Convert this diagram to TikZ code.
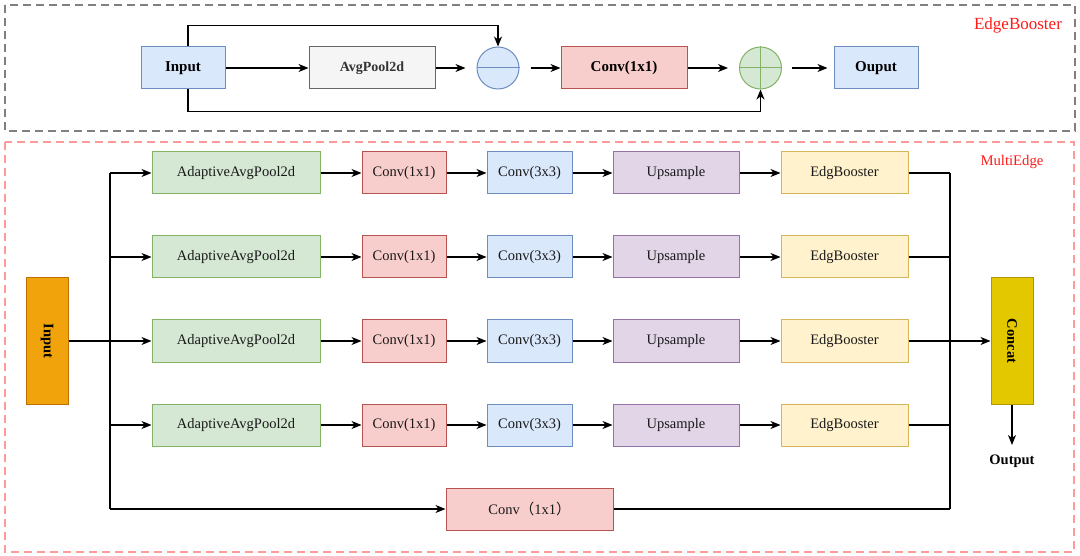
\documentclass[tikz,border=0pt]{standalone}
\usepackage{fontspec}
\setmainfont{Liberation Serif}
\newfontfamily\cjk{Noto Sans CJK SC}
\usetikzlibrary{arrows.meta}
\definecolor{blueF}{HTML}{DAE8FC}\definecolor{blueD}{HTML}{6C8EBF}
\definecolor{grayF}{HTML}{F5F5F5}\definecolor{grayD}{HTML}{666666}\definecolor{grayT}{HTML}{333333}
\definecolor{redF}{HTML}{F8CECC}\definecolor{redD}{HTML}{B85450}
\definecolor{greenF}{HTML}{D5E8D4}\definecolor{greenD}{HTML}{82B366}
\definecolor{purpF}{HTML}{E1D5E7}\definecolor{purpD}{HTML}{9673A6}
\definecolor{yelF}{HTML}{FFF2CC}\definecolor{yelD}{HTML}{D6B656}
\definecolor{orF}{HTML}{F0A30A}\definecolor{orD}{HTML}{BD7000}
\definecolor{conF}{HTML}{E3C800}\definecolor{conD}{HTML}{B09500}
\definecolor{frameGray}{HTML}{808080}\definecolor{framePink}{HTML}{FF9A9A}
\definecolor{labRed}{HTML}{FF1A1A}
\begin{document}
\begin{tikzpicture}[x=1pt,y=-1pt,
  box/.style={draw, rectangle, line width=1pt, inner sep=0pt, minimum height=42pt},
  arr/.style={-{Stealth[length=10pt,width=8pt,inset=3pt]}, line width=1.2pt, black},
  ln/.style={line width=1.2pt, black},
  fb/.style={font=\fontsize{15}{18}\selectfont\bfseries},
  fr/.style={font=\fontsize{14.5}{17}\selectfont, text=black!90},
  bluebox/.style={box, fill=blueF, draw=blueD},
  graybox/.style={box, fill=grayF, draw=grayD, text=grayT},
  redbox/.style={box, fill=redF, draw=redD},
  greenbox/.style={box, fill=greenF, draw=greenD},
  purpbox/.style={box, fill=purpF, draw=purpD},
  yelbox/.style={box, fill=yelF, draw=yelD},
  opcirc/.style={circle, line width=1pt, inner sep=0pt, minimum size=42pt},
  frame/.style={line width=1.5pt, dash pattern=on 8pt off 5pt},
  framelabel/.style={text=labRed, inner sep=0pt}
]
\useasboundingbox (0,0) rectangle (1080,556);
\fill[white] (0,0) rectangle (1080,556);

% ---------- EdgeBooster ----------
\draw[frame, frameGray] (5,5) rectangle (1075,131);
\node[framelabel, font=\fontsize{17}{20}\selectfont] (ebl) at (1018,25) {EdgeBooster};

\node[bluebox, fb, minimum width=84pt] (tin) at (183,68) {Input};
\node[graybox, font=\fontsize{14}{17}\selectfont\bfseries, minimum width=126pt] (tavg) at (372,68) {AvgPool2d};
\node[opcirc, draw=blueD, fill=blueF] (minus) at (498,68) {};
\draw[blueD, line width=1pt] (minus.west) -- (minus.east);
\node[redbox, fb, minimum width=126pt] (tconv) at (624,68) {Conv(1x1)};
\node[opcirc, draw=greenD, fill=greenF] (plus) at (760.5,68) {};
\draw[greenD, line width=1pt] (plus.west) -- (plus.east);
\draw[greenD, line width=1pt] (plus.north) -- (plus.south);
\node[bluebox, fb, minimum width=84pt] (tout) at (876,68) {Ouput};

\draw[arr] (tin.east) -- (tavg.west);
\draw[arr] (tavg.east) -- ([xshift=-11pt]minus.west);
\draw[arr] ([xshift=11pt]minus.east) -- (tconv.west);
\draw[arr] (tconv.east) -- ([xshift=-11pt]plus.west);
\draw[arr] ([xshift=10pt]plus.east) -- ([xshift=-6pt]tout.west);
\draw[arr] ([xshift=5pt]tin.north) -- ++(0,-21) -| (minus.north);
\draw[arr] ([xshift=5pt]tin.south) -- ++(0,22) -| (plus.south);

% ---------- MultiEdge ----------
\draw[frame, framePink] (5,142) rectangle (1074,552);
\node[framelabel, font=\fontsize{14.7}{17}\selectfont] (mel) at (1012,162) {MultiEdge};

\node[box, fill=orF, draw=orD, font=\fontsize{14.5}{17}\selectfont\bfseries, minimum width=127pt, rotate=-90] (min) at (47,341) {Input};
\node[box, fill=conF, draw=conD, font=\fontsize{14.5}{17}\selectfont\bfseries, minimum width=127pt, rotate=-90] (conc) at (1012,341) {Concat};

\foreach \i/\y in {1/173,2/257,3/341,4/425}{
  \node[greenbox, fr, minimum width=168pt] (pool\i) at (236,\y) {AdaptiveAvgPool2d};
  \node[redbox, fr, minimum width=84pt] (ca\i) at (404,\y) {Conv(1x1)};
  \node[bluebox, fr, minimum width=85pt] (cb\i) at (529.5,\y) {Conv(3x3)};
  \node[purpbox, fr, minimum width=126pt] (up\i) at (676,\y) {Upsample};
  \node[yelbox, fr, minimum width=127pt] (eb\i) at (844.5,\y) {EdgBooster};
  \draw[arr] (pool\i.east) -- (ca\i.west);
  \draw[arr] (ca\i.east) -- (cb\i.west);
  \draw[arr] (cb\i.east) -- (up\i.west);
  \draw[arr] (up\i.east) -- (eb\i.west);
}
\node[redbox, fr, minimum width=167pt] (cbot) at (529.5,509) {Conv{\cjk （}1x1{\cjk ）}};

\coordinate (bt) at (110,173);
\coordinate (bb) at (110,509);
\coordinate (rt) at (950,173);
\coordinate (rb) at (950,509);

\draw[ln] (bt) -- (bb);
\draw[arr] (min.north) -- (pool3.west);
\foreach \i in {1,2,4}{
  \draw[arr] (pool\i.west -| bt) -- (pool\i.west);
}
\draw[arr] (bb) -- (cbot.west);

\draw[ln] (rt) -- (rb);
\foreach \i in {1,2,4}{
  \draw[ln] (eb\i.east) -- (eb\i.east -| rt);
}
\draw[ln] (cbot.east) -- (rb);
\draw[arr] (eb3.east) -- (conc.south);

\node[font=\fontsize{14.5}{17}\selectfont\bfseries, anchor=north, inner sep=0pt, inner ysep=10pt] (otxt) at (1012,445) {Output};
\draw[arr] (conc.east) -- (otxt.north);
\end{tikzpicture}
\end{document}
